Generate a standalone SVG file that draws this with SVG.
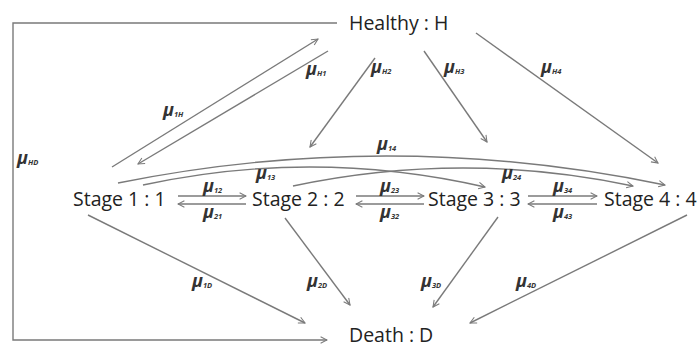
<svg xmlns="http://www.w3.org/2000/svg" width="700" height="347" viewBox="0 0 700 347">
<defs>
<style>
.node{font-family:"Open Sans","Liberation Sans",sans-serif;font-size:19.5px;fill:#222}
.edge{fill:none;stroke:#7a7a7a;stroke-width:1.4}
.mu{font-family:"Open Sans","Liberation Sans",sans-serif;font-size:18px;font-style:italic;font-weight:bold;fill:#333}
.sub{font-size:7.5px;font-weight:bold}
</style>
<marker id="ah" viewBox="0 0 10 10" refX="9" refY="5" markerWidth="8" markerHeight="8" markerUnits="userSpaceOnUse" orient="auto">
<path d="M1,1 L9,5 L1,9" fill="none" stroke="#7a7a7a" stroke-width="1.3"/>
</marker>
</defs>
<rect width="700" height="347" fill="#fff"/>
<g id="connectors">
<path class="edge" d="M337,23 H13 V340 H327" marker-end="url(#ah)"/>
<path class="edge" d="M112,167 L318,39" marker-end="url(#ah)"/>
<path class="edge" d="M328,51 L138,164" marker-end="url(#ah)"/>
<path class="edge" d="M375,58 L310,147" marker-end="url(#ah)"/>
<path class="edge" d="M424,51 L487,142" marker-end="url(#ah)"/>
<path class="edge" d="M476,33 L658,163" marker-end="url(#ah)"/>
<path class="edge" d="M118,183 Q391,128 665,185" marker-end="url(#ah)"/>
<path class="edge" d="M143,185 Q314,148 485,187" marker-end="url(#ah)"/>
<path class="edge" d="M293,186 Q463,150 633,186" marker-end="url(#ah)"/>
<path class="edge" d="M178,196 H246" marker-end="url(#ah)"/>
<path class="edge" d="M246,204 H178" marker-end="url(#ah)"/>
<path class="edge" d="M356,196 H424" marker-end="url(#ah)"/>
<path class="edge" d="M424,204 H356" marker-end="url(#ah)"/>
<path class="edge" d="M528,196 H597" marker-end="url(#ah)"/>
<path class="edge" d="M597,204 H528" marker-end="url(#ah)"/>
<path class="edge" d="M88,215 L305,323" marker-end="url(#ah)"/>
<path class="edge" d="M285,218 L350,305" marker-end="url(#ah)"/>
<path class="edge" d="M498,217 L433,307" marker-end="url(#ah)"/>
<path class="edge" d="M687,215 L470,323" marker-end="url(#ah)"/>
</g>
<g id="labels">
<text class="mu" x="163" y="116">μ<tspan class="sub" dy="1">1H</tspan></text>
<text class="mu" x="306" y="75">μ<tspan class="sub" dy="1">H1</tspan></text>
<text class="mu" x="371" y="73">μ<tspan class="sub" dy="1">H2</tspan></text>
<text class="mu" x="444" y="73">μ<tspan class="sub" dy="1">H3</tspan></text>
<text class="mu" x="541" y="73">μ<tspan class="sub" dy="1">H4</tspan></text>
<text class="mu" x="17" y="164">μ<tspan class="sub" dy="1">HD</tspan></text>
<text class="mu" x="377" y="150">μ<tspan class="sub" dy="1">14</tspan></text>
<text class="mu" x="256" y="179">μ<tspan class="sub" dy="1">13</tspan></text>
<text class="mu" x="502" y="179">μ<tspan class="sub" dy="1">24</tspan></text>
<text class="mu" x="203" y="192">μ<tspan class="sub" dy="1">12</tspan></text>
<text class="mu" x="203" y="218">μ<tspan class="sub" dy="1">21</tspan></text>
<text class="mu" x="380" y="192">μ<tspan class="sub" dy="1">23</tspan></text>
<text class="mu" x="380" y="218">μ<tspan class="sub" dy="1">32</tspan></text>
<text class="mu" x="553" y="192">μ<tspan class="sub" dy="1">34</tspan></text>
<text class="mu" x="553" y="218">μ<tspan class="sub" dy="1">43</tspan></text>
<text class="mu" x="192" y="287">μ<tspan class="sub" dy="1">1D</tspan></text>
<text class="mu" x="307" y="287">μ<tspan class="sub" dy="1">2D</tspan></text>
<text class="mu" x="421" y="287">μ<tspan class="sub" dy="1">3D</tspan></text>
<text class="mu" x="516" y="287">μ<tspan class="sub" dy="1">4D</tspan></text>
</g>
<g id="healthy"><text class="node" x="349" y="30">Healthy : H</text></g>
<g id="stage1"><text class="node" x="73" y="206">Stage 1 : 1</text></g>
<g id="stage2"><text class="node" x="252" y="206">Stage 2 : 2</text></g>
<g id="stage3"><text class="node" x="428" y="206">Stage 3 : 3</text></g>
<g id="stage4"><text class="node" x="604" y="206">Stage 4 : 4</text></g>
<g id="death"><text class="node" x="349" y="342">Death : D</text></g>
</svg>
